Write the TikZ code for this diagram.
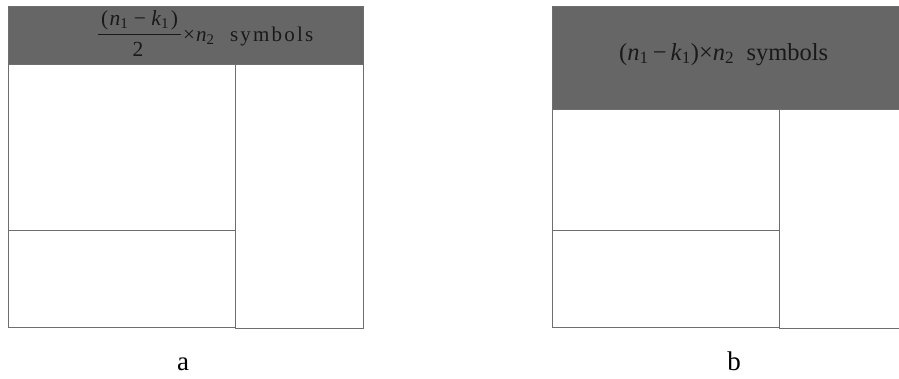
\documentclass[tikz,border=0pt]{standalone}
\usepackage{fontspec}
\setmainfont{Liberation Serif}
\newcommand{\iv}[2]{\textit{#1}\textsubscript{#2}}
\newcommand{\ls}{\kern2.2pt}
\begin{document}
\begin{tikzpicture}[x=1pt,y=-1pt,
  line/.style={draw={rgb,255:red,110;green,110;blue,110},line width=0.9pt},
  hdr/.style={line,fill={rgb,255:red,102;green,102;blue,102}},
  cell/.style={line,fill=white},
  lbl/.style={font=\fontsize{27}{29}\selectfont,inner sep=0pt},
  hdtext/.style={inner sep=0pt,text={rgb,255:red,25;green,25;blue,25}}]
\clip (0,0) rectangle (899,378);
\fill[white] (0,0) rectangle (899,378);
% diagram a
\path[hdr] (8,6) rectangle (363,64);
\path[cell] (8,64) rectangle (235,230);
\path[cell] (8,230) rectangle (235,327);
\path[cell] (235,64) rectangle (363,328);
\node[hdtext,font=\fontsize{21.5}{23}\selectfont,anchor=base] (num) at (139.5,25.5)
  {(\kern1.5pt\iv{n}{1} − \iv{k}{1}\kern1.5pt)};
\draw[line width=1pt,draw={rgb,255:red,25;green,25;blue,25}] (98,34) coordinate (fl) -- (181,34) coordinate (fr);
\node[hdtext,font=\fontsize{21.5}{23}\selectfont,anchor=base] (den) at (138,56) {2};
\node[hdtext,font=\fontsize{21}{23}\selectfont,anchor=base west] (rest) at (183,41)
  {×\kern1pt\iv{n}{2}\ \ \ s\ls y\ls m\ls b\ls o\ls l\ls s};
\node[lbl,anchor=base] (la) at (183,370) {a};
% diagram b
\path[hdr] (552,6) rectangle (902,109);
\path[cell] (552,109) rectangle (779,230);
\path[cell] (552,230) rectangle (779,327);
\path[cell] (779,109) rectangle (902,328);
\node[hdtext,font=\fontsize{24.5}{26}\selectfont,anchor=base west] (tb) at (619,60)
  {(\iv{n}{1}\,−\,\iv{k}{1})×\iv{n}{2}\ \ symbols};
\node[lbl,anchor=base] (lb) at (734,370) {b};
\end{tikzpicture}
\end{document}
